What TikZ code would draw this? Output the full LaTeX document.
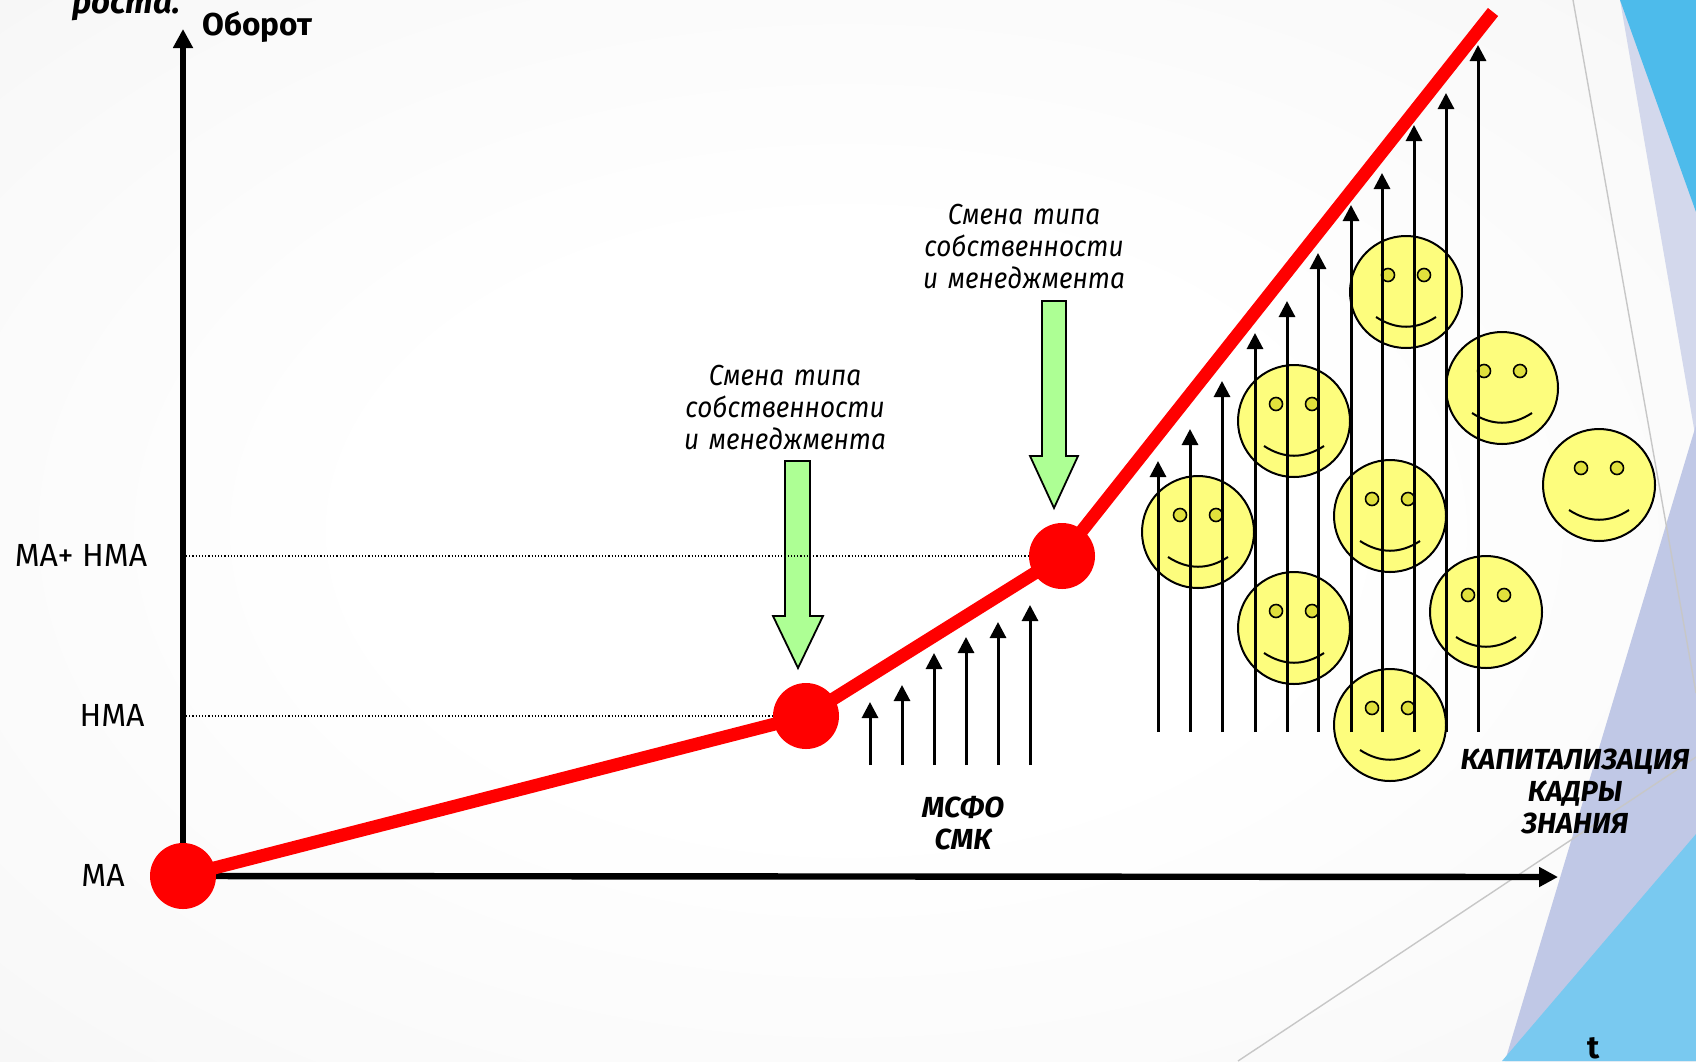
\documentclass[tikz,border=0pt]{standalone}
\usepackage{fontspec}
\setmainfont{Fira Sans}[ItalicFeatures={FakeStretch=0.9}]
\usetikzlibrary{arrows.meta}
\definecolor{topblue}{HTML}{4DBBEB}
\definecolor{lowblue}{HTML}{79C9F0}
\definecolor{lavlight}{HTML}{D3D8EC}
\definecolor{lavdark}{HTML}{C0C8E6}
\definecolor{smile}{HTML}{FDFD7D}
\definecolor{eye}{HTML}{E0E03C}
\definecolor{arrowgreen}{HTML}{ADFF94}
\pgfdeclareradialshading{pagebg}{\pgfpoint{0bp}{0bp}}{color(0bp)=(white); color(14bp)=(white); color(32bp)=(black!2.5); color(50bp)=(black!6); color(100bp)=(black!6)}
\tikzset{
  x=0.5pt,y=-0.5pt,
  redline/.style={draw=red,line width=6.5pt},
  reddot/.style={circle,fill=red,minimum size=33pt,inner sep=0pt},
  axisline/.style={draw=black,line width=3.2pt,-{Triangle[length=9.5pt,width=9.5pt]}},
  uparrow/.style={draw=black,line width=1.5pt,-{Triangle[length=8pt,width=8pt]}},
  guide/.style={draw=black,line width=0.6pt,densely dotted},
  bgline/.style={draw=black!22,line width=0.7pt},
  face/.style={circle,draw=black,fill=smile,line width=1pt,minimum size=56pt,inner sep=0pt},
  eyedot/.style={circle,draw=black,fill=eye,line width=0.8pt,minimum size=6.5pt,inner sep=0pt},
  greenarrow/.style={draw=black,fill=arrowgreen,line width=0.9pt},
  label/.style={font=\fontsize{16}{16}\selectfont,inner sep=0pt,align=center},
  note/.style={font=\fontsize{14.5}{16}\selectfont\itshape,inner sep=0pt,align=center},
  bnote/.style={font=\fontsize{14.5}{16}\selectfont\itshape\bfseries,inner sep=0pt,align=center},
  blabel/.style={font=\fontsize{15.8}{16}\selectfont\bfseries,inner sep=0pt},
}
\begin{document}
\begin{tikzpicture}
\useasboundingbox (0,0) rectangle (1696,1061);
\clip (0,0) rectangle (1696,1061);
% background
\path[shading=pagebg] (0,0) rectangle (1696,1061);
\fill[lavlight] (1620,0) -- (1696,440) -- (1696,0) -- cycle;
\fill[topblue] (1620,0) -- (1696,212) -- (1696,0) -- cycle;
\fill[lavdark] (1696,425) -- (1696,1061) -- (1505,1061) -- cycle;
\fill[lowblue] (1502,1061) -- (1696,834) -- (1696,1061) -- cycle;
\coordinate (g1a) at (1573,0); \coordinate (g1b) at (1696,693);
\coordinate (g2a) at (1238,1061); \coordinate (g2b) at (1696,757);
\draw[bgline] (g1a) -- (g1b);
\draw[bgline] (g2a) -- (g2b);
% coordinates
\coordinate (ma) at (183,876);
\coordinate (nma) at (806,716);
\coordinate (manma) at (1062,556);
\coordinate (redend) at (1493,12);
\coordinate (ytip) at (183,29);
\coordinate (xtip) at (1558,877);
\coordinate (g3a) at (186,556);
\coordinate (g4a) at (186,716);
% green arrows
\path[greenarrow] (785,461) -- (810,461) -- (810,616) -- (823,616) -- (798,668) -- (773,616) -- (785,616) -- cycle;
\path[greenarrow] (1042,301) -- (1066,301) -- (1066,456) -- (1078,456) -- (1054,508) -- (1030,456) -- (1042,456) -- cycle;
% dotted guides
\draw[guide] (g3a) -- (manma);
\draw[guide] (g4a) -- (nma);
% faces
\foreach \n/\fx/\fy in {1/1198/532,2/1294/421,3/1406/292,4/1502/388,5/1599/485,6/1390/516,7/1294/628,8/1486/612,9/1390/725}{
  \node[face] (f\n) at (\fx,\fy) {};
  \node[eyedot] (fl\n) at (\fx-18,\fy-17) {};
  \node[eyedot] (fr\n) at (\fx+18,\fy-17) {};
  \draw[black,line width=1pt] (\fx-30,\fy+25) .. controls (\fx-10,\fy+38) and (\fx+10,\fy+38) .. (\fx+30,\fy+25);
}
% small arrows
\foreach \n/\ax/\at in {1/870/702,2/902/685,3/934/653,4/966/637,5/998/622,6/1030/605}{
  \coordinate (sb\n) at (\ax,765);
  \coordinate (st\n) at (\ax,\at);
  \draw[uparrow] (sb\n) -- (st\n);
}
% long arrows
\foreach \n/\ax/\at in {1/1158/461,2/1190/429,3/1222/381,4/1255/333,5/1287/301,6/1318/253,7/1351/205,8/1382/173,9/1414/125,10/1446/93,11/1478/45}{
  \coordinate (lb\n) at (\ax,732);
  \coordinate (lt\n) at (\ax,\at);
  \draw[uparrow] (lb\n) -- (lt\n);
}
% axes
\draw[axisline] (ma) -- (ytip);
\draw[axisline] (ma) -- (xtip);
% red line
\draw[redline] (ma) -- (nma) -- (manma) -- (redend);
\node[reddot] (d1) at (ma) {};
\node[reddot] (d2) at (nma) {};
\node[reddot] (d3) at (manma) {};
% labels
\node[bnote,font=\fontsize{16.5}{16}\selectfont\itshape\bfseries,anchor=base] (rosta) at (126,13) {роста.};
\node[blabel,anchor=west] (ob) at (202,27) {Оборот};
\node[label] (lmanma) at (81,555) {МА+ НМА};
\node[label] (lnma) at (112,715) {НМА};
\node[label] (lma) at (103,875) {МА};
\node[note,text width=260pt] (n1) at (785,407) {Смена типа\\собственности\\и менеджмента};
\node[note,text width=260pt] (n2) at (1024,247) {Смена типа\\собственности\\и менеджмента};
\node[bnote] (msfo) at (963,823) {МСФО\\СМК};
\node[bnote] (kap) at (1575,791) {КАПИТАЛИЗАЦИЯ\\КАДРЫ\\ЗНАНИЯ};
\node[blabel] (t) at (1594,1048) {t};
\end{tikzpicture}
\end{document}
